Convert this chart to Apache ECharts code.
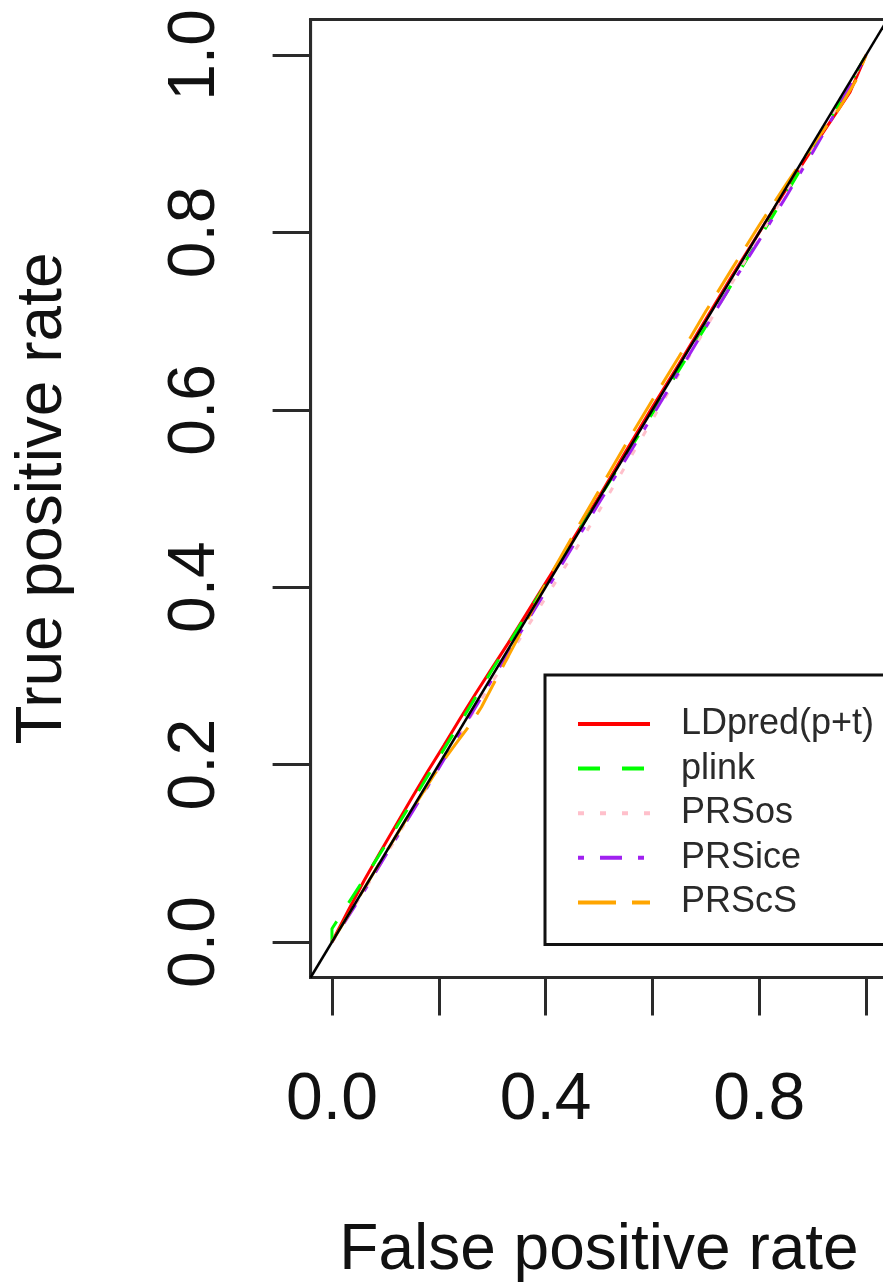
<!DOCTYPE html>
<html><head><meta charset="utf-8">
<script src="https://cdn.jsdelivr.net/npm/echarts@6/dist/echarts.min.js"></script>
<style>html,body{margin:0;padding:0;background:#fff}#c{width:883px;height:1283px}</style>
</head><body><div id="c"></div>
<script>
// ---- data ----
const seriesNames = ['LDpred(p+t)', 'plink', 'PRSos', 'PRSice', 'PRScS'];
const seriesColors = ['#FF0000', '#00FF00', '#FFC0CB', '#A020F0', '#FFA500'];
const ldpredROC = [[0,0],[0.03,0.035],[0.06,0.069],[0.09,0.101],[0.12,0.132],[0.15,0.163],[0.18,0.193],[0.21,0.222],[0.24,0.252],[0.27,0.281],[0.3,0.309],[0.33,0.337],[0.36,0.366],[0.4,0.405],[0.45,0.453],[0.5,0.502],[0.55,0.553],[0.6,0.603],[0.65,0.652],[0.7,0.702],[0.75,0.752],[0.8,0.8],[0.85,0.848],[0.9,0.895],[0.95,0.94],[0.97,0.958],[1,1]];
const plinkROC = [[0,0],[0,0.015],[0.03,0.043],[0.06,0.071],[0.1,0.109],[0.15,0.158],[0.2,0.208],[0.25,0.257],[0.3,0.307],[0.35,0.355],[0.4,0.403],[0.45,0.452],[0.5,0.5],[0.55,0.548],[0.6,0.596],[0.65,0.645],[0.7,0.694],[0.75,0.743],[0.8,0.793],[0.85,0.843],[0.9,0.894],[0.95,0.946],[1,1]];
const prsosROC = [[0,0],[0.05,0.048],[0.1,0.097],[0.15,0.147],[0.2,0.196],[0.25,0.245],[0.3,0.293],[0.35,0.34],[0.4,0.388],[0.45,0.436],[0.5,0.486],[0.55,0.537],[0.6,0.589],[0.65,0.641],[0.7,0.692],[0.75,0.744],[0.8,0.795],[0.85,0.845],[0.9,0.895],[0.95,0.946],[1,1]];
const prsiceROC = [[0,0],[0.05,0.047],[0.1,0.097],[0.15,0.146],[0.2,0.196],[0.25,0.246],[0.3,0.296],[0.35,0.346],[0.4,0.395],[0.45,0.445],[0.5,0.495],[0.55,0.544],[0.6,0.593],[0.65,0.643],[0.7,0.693],[0.75,0.743],[0.8,0.791],[0.85,0.84],[0.9,0.89],[0.95,0.943],[1,1]];
const prscsROC = [[0,0],[0.05,0.05],[0.1,0.1],[0.15,0.149],[0.2,0.197],[0.23,0.222],[0.26,0.246],[0.28,0.265],[0.3,0.288],[0.33,0.322],[0.36,0.356],[0.4,0.404],[0.45,0.457],[0.5,0.509],[0.55,0.561],[0.6,0.611],[0.65,0.66],[0.7,0.711],[0.75,0.76],[0.8,0.808],[0.85,0.854],[0.9,0.898],[0.95,0.94],[0.98,0.97],[1,1]];
const diagonalLine = [[-0.04,-0.04],[1.04,1.04]];
const tickValues = [0, 0.2, 0.4, 0.6, 0.8, 1];
const xLabelValues = [0, 0.4, 0.8];
const yLabelValues = [0, 0.2, 0.4, 0.6, 0.8, 1];
const xTitle = 'False positive rate';
const yTitle = 'True positive rate';

// ---- styles ----
const FONT = "'Liberation Sans', Arial, Helvetica, sans-serif";
const dashTypes = ['solid', [22, 22], [6, 16], [6, 16, 22, 16], [38, 16]];
const curves = [ldpredROC, plinkROC, prsosROC, prsiceROC, prscsROC];

const chart = echarts.init(document.getElementById('c'), null, {renderer: 'canvas'});
const series = curves.map((d, i) => ({
  name: seriesNames[i], type: 'line', data: d, symbol: 'none', showSymbol: false,
  lineStyle: {color: seriesColors[i], width: 3, type: dashTypes[i]},
  itemStyle: {color: seriesColors[i]}, animation: false, z: 2 + i
}));
series.push({
  name: 'diag', type: 'line', data: diagonalLine, symbol: 'none', clip: false,
  lineStyle: {color: '#000', width: 2.5}, animation: false, z: 10
});

const axisCommon = {
  type: 'value', min: -0.04, max: 1.04,
  splitLine: {show: false},
  axisLine: {show: true, onZero: false, lineStyle: {color: '#2a2a2a', width: 3}},
  axisTick: {show: true, inside: false, length: 38, lineStyle: {color: '#2a2a2a', width: 3}, customValues: tickValues},
  nameLocation: 'middle',
  nameTextStyle: {fontFamily: FONT, fontSize: 64, color: '#111'}
};

chart.setOption({
  animation: false,
  backgroundColor: '#fff',
  grid: {left: 310.6, top: 19.5, width: 576.8, height: 958, outerBoundsMode: 'none', containLabel: false,
         show: true, borderColor: '#2a2a2a', borderWidth: 3, backgroundColor: 'transparent'},
  xAxis: Object.assign({}, axisCommon, {
    name: xTitle, nameGap: 242,
    axisLabel: {customValues: xLabelValues, formatter: v => v.toFixed(1), fontFamily: FONT, fontSize: 66, color: '#111', margin: 90}
  }),
  yAxis: Object.assign({}, axisCommon, {
    name: yTitle, nameGap: 235,
    axisLabel: {customValues: yLabelValues, formatter: v => v.toFixed(1), rotate: 90, fontFamily: FONT, fontSize: 66, color: '#111', margin: 82}
  }),
  legend: {
    orient: 'vertical', left: 545, top: 675,
    backgroundColor: '#fff', borderColor: '#111', borderWidth: 3,
    padding: [30, 20, 23, 31],
    itemWidth: 72, itemHeight: 14, itemGap: 6.6,
    itemStyle: {opacity: 0},
    textStyle: {fontFamily: FONT, fontSize: 36, color: '#2a2a2a', lineHeight: 38, padding: [0, 0, 0, 26]},
    data: seriesNames.map((n, i) => ({name: n, itemStyle: {opacity: 0}, lineStyle: {width: 4, color: seriesColors[i], type: dashTypes[i]}}))
  },
  series: series
});
</script></body></html>
